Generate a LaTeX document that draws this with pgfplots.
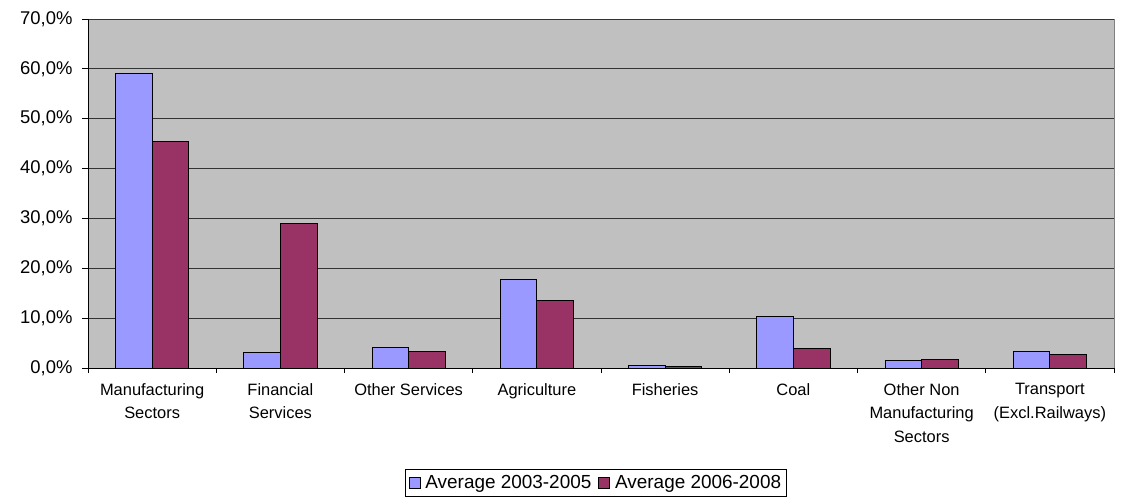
\documentclass[border=0pt]{standalone}
\usepackage{pgfplots}
\pgfplotsset{compat=1.18}
\usepackage{fontspec}
\setmainfont{Liberation Sans}

\definecolor{plotbg}{HTML}{C0C0C0}
\definecolor{avgA}{HTML}{9999FF}
\definecolor{avgB}{HTML}{993366}

\begin{document}
\begin{tikzpicture}
  \begin{axis}[
    name=ax,
    scale only axis,
    width=1026bp,
    height=349bp,
    ybar=0pt,
    bar width=36.6bp,
    xmin=-0.5, xmax=7.5,
    ymin=0, ymax=70,
    ytick={0,10,...,70},
    xtick={0,...,7},
    xticklabels={{Manufacturing\\Sectors},{Financial\\Services},{Other Services},{Agriculture},{Fisheries},{Coal},{Other Non\\Manufacturing\\Sectors},{Transport\\(Excl.Railways)}},
    minor xtick={-0.5,0.5,...,7.5},
    major x tick style={draw=none},
    tick align=outside,
    tick pos=left,
    major tick length=6bp,
    minor tick length=5bp,
    tick style={black, line width=0.8bp},
    axis lines*=left,
    axis line style={-, black, line width=0.9bp},
    axis background/.style={fill=plotbg, draw=gray, line width=0.8bp},
    ymajorgrids=true,
    grid style={black!80, line width=0.8bp},
    /pgf/number format/assume math mode=true,
    yticklabel={\pgfmathprintnumber[fixed,fixed zerofill,precision=1,use comma]{\tick}\%},
    yticklabel style={font=\fontsize{18.5}{21}\selectfont, xshift=-6bp},
    xticklabel style={font=\fontsize{16.5}{23.5}\selectfont, align=center, anchor=north, yshift=-6bp},
    legend style={
      at={(0.495,-0.29)},
      anchor=north,
      legend columns=2,
      draw=black,
      line width=0.8bp,
      font=\fontsize{19}{22}\selectfont,
      inner xsep=3bp,
      inner ysep=4bp,
      /tikz/every odd column/.append style={column sep=3bp},
      /tikz/every even column/.append style={column sep=5bp},
    },
    legend image code/.code={\draw[#1, line width=0.8bp] (0bp,-5.5bp) rectangle (11bp,5.5bp);},
  ]
  \addplot[fill=avgA, draw=black, line width=0.8bp] coordinates {
    (0, 59.1) (1, 3.1) (2, 4.2) (3, 17.8) (4, 0.6) (5, 10.4) (6, 1.5) (7, 3.4)
  };
  \addlegendentry{Average 2003-2005}
  \addplot[fill=avgB, draw=black, line width=0.8bp] coordinates {
    (0, 45.5) (1, 29.0) (2, 3.4) (3, 13.5) (4, 0.3) (5, 3.9) (6, 1.8) (7, 2.7)
  };
  \addlegendentry{Average 2006-2008}
  \end{axis}
  \pgfresetboundingbox
  \useasboundingbox ([shift={(-88bp,-131bp)}]ax.south west) rectangle ([shift={(7bp,19bp)}]ax.north east);
\end{tikzpicture}
\end{document}
